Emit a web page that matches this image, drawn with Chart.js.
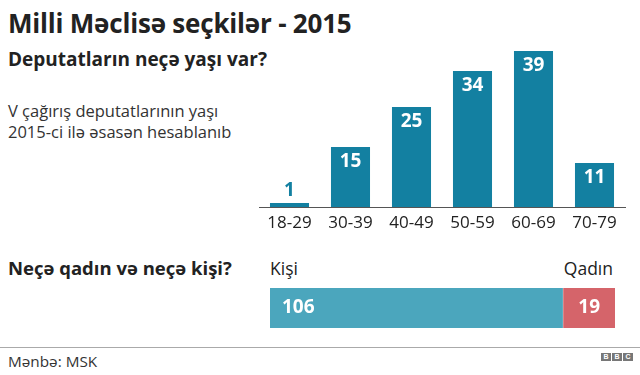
<!DOCTYPE html>
<html>
<head>
<meta charset="utf-8">
<script src="https://cdn.jsdelivr.net/npm/chart.js@4"></script>
<style>
  body { margin: 0; width: 640px; height: 375px; background: #fff; position: relative; overflow: hidden;
         font-family: "Open Sans", "Noto Sans", sans-serif; color: #222; }
  .t { position: absolute; left: 8px; white-space: nowrap; }
  #title { top: 5px; font-size: 26px; font-weight: 700; letter-spacing: -0.2px; }
  #sub { top: 46px; font-size: 19px; font-weight: 700; }
  #note { top: 100px; font-size: 16.5px; line-height: 21px; color: #333; }
  #q2 { top: 255px; font-size: 18.5px; font-weight: 700; }
  #src { top: 351px; font-size: 15.3px; color: #333; }
  #rule { position: absolute; left: 0; top: 347px; width: 640px; height: 1px; background: #aaa; }
  .lbl { position: absolute; top: 256px; font-size: 17.5px; color: #222; }
  #bbc { position: absolute; left: 601px; top: 353px; display: flex; gap: 1px; }
  #bbc span { width: 10px; height: 8px; background: #777; color: #fff; font: bold 7px/8px Arial, sans-serif; text-align: center; }
  #ages { position: absolute; left: 250px; top: 40px; }
  #gender { position: absolute; left: 260px; top: 280px; }
</style>
</head>
<body>
<div class="t" id="title">Milli Məclisə seçkilər - 2015</div>
<div class="t" id="sub">Deputatların neçə yaşı var?</div>
<div class="t" id="note">V çağırış deputatlarının yaşı<br>2015-ci ilə əsasən hesablanıb</div>
<div class="t" id="q2">Neçə qadın və neçə kişi?</div>
<div class="lbl" style="left:270px">Kişi</div>
<div class="lbl" style="right:27px">Qadın</div>
<div id="rule"></div>
<div class="t" id="src">Mənbə: MSK</div>
<div id="bbc"><span>B</span><span>B</span><span>C</span></div>
<canvas id="ages" width="385" height="200"></canvas>
<canvas id="gender" width="370" height="56"></canvas>
<script>
// age groups
const ageGroups = ["18-29", "30-39", "40-49", "50-59", "60-69", "70-79"];
const ageCounts = [1, 15, 25, 34, 39, 11];

// gender split
const genderLabels = ["Kişi", "Qadın"];
const genderCounts = [106, 19];
const genderColors = ["#4ba6bd", "#d5646a"];

const teal = "#1380a1";

// value labels on bars
const barLabels = {
  id: "barLabels",
  afterDatasetsDraw(chart) {
    const ctx = chart.ctx;
    ctx.save();
    ctx.font = "bold 19px 'Open Sans', sans-serif";
    ctx.textAlign = "center";
    ctx.textBaseline = "middle";
    chart.getDatasetMeta(0).data.forEach((bar, i) => {
      const v = ageCounts[i];
      const h = bar.base - bar.y;
      if (h < 30) {
        ctx.fillStyle = teal;
        ctx.fillText(v, bar.x, bar.y - 12);
      } else {
        ctx.fillStyle = "#fff";
        ctx.fillText(v, bar.x, bar.y + 15);
      }
    });
    ctx.restore();
  }
};

new Chart(document.getElementById("ages"), {
  type: "bar",
  data: {
    labels: ageGroups,
    datasets: [{ data: ageCounts, backgroundColor: teal, barPercentage: 0.8, categoryPercentage: 0.8 }]
  },
  options: {
    responsive: false,
    animation: false,
    layout: { padding: { left: 9, right: 10, top: 11, bottom: 3 } },
    plugins: { legend: { display: false }, tooltip: { enabled: false } },
    scales: {
      y: { display: false, min: 0, max: 39 },
      x: {
        grid: { display: false, drawTicks: false },
        border: { display: true, color: "#555", width: 1 },
        ticks: { color: "#222", font: { size: 17, family: "'Open Sans', sans-serif" }, padding: 6, maxRotation: 0 },
        afterFit(scale) { scale.height = 30; }
      }
    }
  },
  plugins: [barLabels]
});

const stackLabels = {
  id: "stackLabels",
  afterDatasetsDraw(chart) {
    const ctx = chart.ctx;
    ctx.save();
    ctx.font = "bold 19px 'Open Sans', sans-serif";
    ctx.fillStyle = "#fff";
    ctx.textBaseline = "middle";
    chart.data.datasets.forEach((ds, i) => {
      const bar = chart.getDatasetMeta(i).data[0];
      if (i === 0) {
        ctx.textAlign = "left";
        ctx.fillText(ds.data[0], bar.base + 12, bar.y);
      } else {
        ctx.textAlign = "right";
        ctx.fillText(ds.data[0], bar.x - 15, bar.y);
      }
    });
    ctx.restore();
  }
};

new Chart(document.getElementById("gender"), {
  type: "bar",
  data: {
    labels: ["x"],
    datasets: genderLabels.map((g, i) => ({
      label: g,
      data: [genderCounts[i]],
      backgroundColor: genderColors[i],
      borderColor: "#fff",
      borderWidth: { left: i === 1 ? 1 : 0 },
      borderSkipped: false,
      barPercentage: 1,
      categoryPercentage: 1
    }))
  },
  options: {
    indexAxis: "y",
    responsive: false,
    animation: false,
    layout: { padding: { left: 10, right: 15, top: 8, bottom: 8 } },
    plugins: { legend: { display: false }, tooltip: { enabled: false } },
    scales: {
      x: { display: false, stacked: true, min: 0, max: genderCounts[0] + genderCounts[1] },
      y: { display: false, stacked: true }
    }
  },
  plugins: [stackLabels]
});
</script>
</body>
</html>
